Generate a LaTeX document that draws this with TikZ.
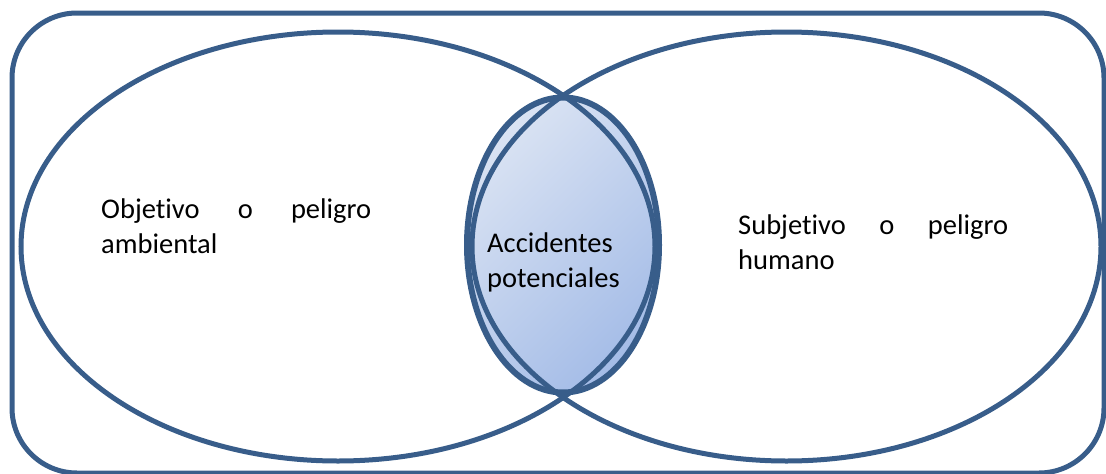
\documentclass[tikz,border=0pt]{standalone}
\usepackage{fontspec}
\setmainfont{Carlito}[Ligatures=NoCommon]
\usetikzlibrary{shapes.geometric}
\definecolor{edge}{RGB}{56,93,138}
\definecolor{gradA}{RGB}{218,227,243}
\definecolor{gradB}{RGB}{164,188,231}
\begin{document}
\begin{tikzpicture}[x=1pt,y=-1pt,
  venn/.style={ellipse, draw=edge, line width=5pt, inner sep=0pt},
  frame/.style={rectangle, draw=edge, line width=5pt, rounded corners=65pt, inner sep=0pt},
  lbl/.style={font=\fontsize{28.5}{35}\selectfont, inner sep=0pt, anchor=base west, align=left, text width=#1},
  lbl/.default=270pt]
\useasboundingbox (0,0) rectangle (1106,474);
\clip (0,0) rectangle (1106,474);
\node[frame, minimum width=1092pt, minimum height=460pt] (box) at (558,243) {};
\node[ellipse, inner sep=0pt, minimum width=194pt, minimum height=296pt,
      top color=gradA, bottom color=gradB, shading angle=45] (lens) at (563,245) {};
\node[venn, minimum width=634pt, minimum height=429pt] (env) at (338,246.5) {};
\node[venn, minimum width=629pt, minimum height=429pt] (hum) at (786.5,246.5) {};
\draw[draw=edge, line width=6pt] (lens.center) ellipse [x radius=96, y radius=147.5];
\node[lbl] (tenv) at (101,218) {Objetivo\hfill o\hfill peligro\\ambiental};
\node[lbl] (thum) at (738,234) {Subjetivo\hfill o\hfill peligro\\humano};
\node[lbl=150pt] (tlens) at (487,252) {Accidentes\\potenciales};
\end{tikzpicture}
\end{document}
